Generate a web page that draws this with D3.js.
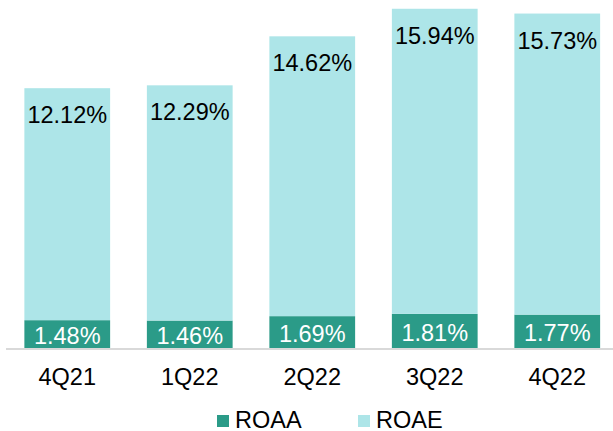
<!DOCTYPE html>
<html>
<head>
<meta charset="utf-8">
<script src="https://cdn.jsdelivr.net/npm/d3@7"></script>
<style>
  body { margin: 0; background: #fff; }
  text { font-family: "Liberation Sans", Arial, sans-serif; }
</style>
</head>
<body>
<svg id="chart" width="613" height="431"></svg>
<script>
// Data
const quarters = ['4Q21', '1Q22', '2Q22', '3Q22', '4Q22'];
const roaa = [1.48, 1.46, 1.69, 1.81, 1.77];
const roae = [12.12, 12.29, 14.62, 15.94, 15.73];
const seriesNames = ['ROAA', 'ROAE'];
const seriesColors = ['#2b9b88', '#ade5e8'];

const
  baseY = 348.5,     // baseline of the bars
  fontSize = 23.5;

const svg = d3.select('#chart');

// rows for the stack
const rows = quarters.map((q, i) => ({ q: q, ROAA: roaa[i], ROAE: roae[i] }));
const stacked = d3.stack().keys(seriesNames)(rows);

const x = d3.scaleBand(quarters, [6, 618.5]).paddingInner(0.3).paddingOuter(0.15);
const y = d3.scaleLinear([0, 18], [baseY, baseY - 18 * 19.14]);
const color = d3.scaleOrdinal(seriesNames, seriesColors);

// bars
const layer = svg.selectAll('g.layer')
  .data(stacked)
  .join('g')
  .attr('class', 'layer')
  .attr('fill', d => color(d.key));

layer.selectAll('rect')
  .data(d => d)
  .join('rect')
  .attr('x', d => x(d.data.q))
  .attr('width', x.bandwidth())
  .attr('y', d => y(d[1]))
  .attr('height', d => y(d[0]) - y(d[1]));

// ROAA labels: white, centered in segment
svg.selectAll('text.roaa')
  .data(stacked[0])
  .join('text')
  .attr('class', 'roaa')
  .attr('x', d => x(d.data.q) + x.bandwidth() / 2)
  .attr('y', d => (y(d[0]) + y(d[1])) / 2 + 1.5)
  .attr('dy', '0.35em')
  .attr('text-anchor', 'middle')
  .attr('fill', '#fff')
  .style('font-size', fontSize + 'px')
  .text(d => d3.format('.2f')(d.data.ROAA) + '%');

// ROAE labels: black, near top of bar
svg.selectAll('text.roae')
  .data(stacked[1])
  .join('text')
  .attr('class', 'roae')
  .attr('x', d => x(d.data.q) + x.bandwidth() / 2)
  .attr('y', d => y(d[1]) + 35)
  .attr('text-anchor', 'middle')
  .attr('fill', '#000')
  .style('font-size', fontSize + 'px')
  .text(d => d3.format('.2f')(d.data.ROAE) + '%');

// x axis
const xAxis = svg.append('g')
  .attr('transform', 'translate(0,' + baseY + ')')
  .call(d3.axisBottom(x).tickSize(0).tickPadding(20));
xAxis.select('.domain').attr('stroke', '#d9d9d9').attr('stroke-width', 2).attr('d', 'M6,0.5H613');
xAxis.selectAll('text')
  .attr('fill', '#000')
  .style('font-family', '"Liberation Sans", Arial, sans-serif')
  .style('font-size', fontSize + 'px');

// legend
const legendX = [217, 358];
const legend = svg.selectAll('g.legend')
  .data(seriesNames)
  .join('g')
  .attr('class', 'legend')
  .attr('transform', (d, i) => 'translate(' + legendX[i] + ',415)');

legend.append('rect')
  .attr('width', 12)
  .attr('height', 12)
  .attr('fill', d => color(d));

legend.append('text')
  .attr('x', 18)
  .attr('y', 13)
  .attr('fill', '#000')
  .style('font-size', fontSize + 'px')
  .text(d => d);
</script>
</body>
</html>
